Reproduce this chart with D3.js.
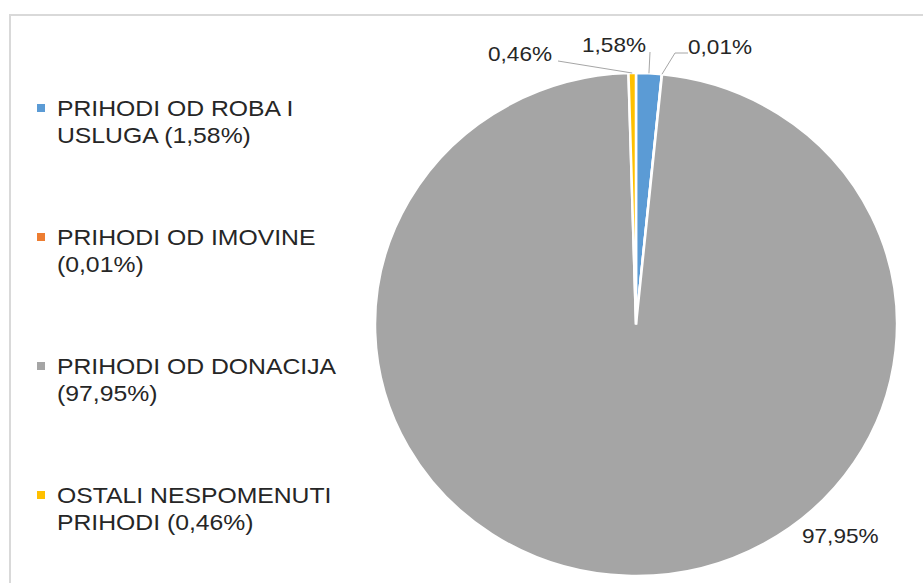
<html>
<head>
<meta charset="utf-8">
<style>
body { margin: 0; background: #ffffff; }
text { font-family: "Liberation Sans", Arial, sans-serif; fill: #262626; }
</style>
</head>
<body>
<div id="plot"></div>

<script src="https://d3js.org/d3.v7.min.js"></script>
<script type="text/javascript">
// data (shares in %)
var categories = ["PRIHODI OD ROBA I USLUGA", "PRIHODI OD IMOVINE", "PRIHODI OD DONACIJA", "OSTALI NESPOMENUTI PRIHODI"];
var values = [1.58, 0.01, 97.95, 0.46];
var colors = ["#5B9BD5", "#ED7D31", "#A5A5A5", "#FFC000"];

var width = 923, height = 583;

var svg = d3.select("#plot")
  .append("svg")
  .attr("width", width)
  .attr("height", height);

// chart frame (only top and left edges fall inside the picture)
svg.append("path")
  .attr("d", "M10," + height + " L10,15 L" + width + ",15")
  .attr("fill", "none")
  .attr("stroke", "#d9d9d9")
  .attr("stroke-width", 2);

var fmt = d3.formatLocale({decimal: ",", thousands: ".", grouping: [3], currency: ["", ""]}).format(".2f");
var pct = function(v){ return fmt(v) + "%"; };

// pie, slightly wider than tall as in the picture
var cx = 636, cy = 324.5, ry = 251.5, rx = 261;
var sx = rx / ry;

var pie = d3.pie().sort(null).value(function(d){ return d; });
var arcs = pie(values);
var arc = d3.arc().innerRadius(0).outerRadius(ry);

var g = svg.append("g")
  .attr("transform", "translate(" + cx + "," + cy + ") scale(" + sx + ",1)");

g.selectAll("path")
  .data(arcs)
  .enter()
  .append("path")
  .attr("d", arc)
  .attr("fill", function(d, i){ return colors[i]; })
  .attr("stroke", "#ffffff")
  .attr("stroke-width", 2.5)
  .attr("vector-effect", "non-scaling-stroke");

// point on the rim at the middle of a slice
var rimPoint = function(d){
  var a = (d.startAngle + d.endAngle) / 2;
  return [cx + rx * Math.sin(a), cy - ry * Math.cos(a)];
};

// data label placement: text anchor point and where the leader line starts
var labelPos = [
  {x: 582, y: 52, leader: [[650, 52]]},
  {x: 688, y: 54, leader: [[688, 53], [675, 53]]},
  {x: 802, y: 543, leader: null},
  {x: 488, y: 61, leader: [[558, 61]]}
];

var line = d3.line();
arcs.forEach(function(d, i){
  var p = labelPos[i];
  if (p.leader) {
    svg.append("path")
      .attr("d", line(p.leader.concat([rimPoint(d)])))
      .attr("fill", "none")
      .attr("stroke", "#a6a6a6")
      .attr("stroke-width", 1);
  }
  svg.append("text")
    .attr("transform", "translate(" + p.x + "," + p.y + ") scale(1.13,1)")
    .style("font-size", "20px")
    .text(pct(values[i]));
});

// legend
var legend = svg.append("g");
var legendTop = 116, legendStep = 129, lineStep = 27, maxW = 300;

categories.forEach(function(name, i){
  var y0 = legendTop + i * legendStep;
  legend.append("rect")
    .attr("x", 37)
    .attr("y", y0 - 12)
    .attr("width", 8)
    .attr("height", 8)
    .attr("fill", colors[i]);

  var words = (name + " (" + pct(values[i]) + ")").split(" ");
  var lines = [], cur = [];
  var probe = legend.append("text").style("font-size", "22.5px");
  words.forEach(function(w){
    probe.text(cur.concat([w]).join(" "));
    if (cur.length && probe.node().getComputedTextLength() * 1.1 > maxW) {
      lines.push(cur.join(" "));
      cur = [w];
    } else {
      cur.push(w);
    }
  });
  lines.push(cur.join(" "));
  probe.remove();

  lines.forEach(function(t, k){
    legend.append("text")
      .attr("transform", "translate(57," + (y0 + k * lineStep) + ") scale(1.1,1)")
      .style("font-size", "22.5px")
      .text(t);
  });
});
</script>
</body>
</html>
